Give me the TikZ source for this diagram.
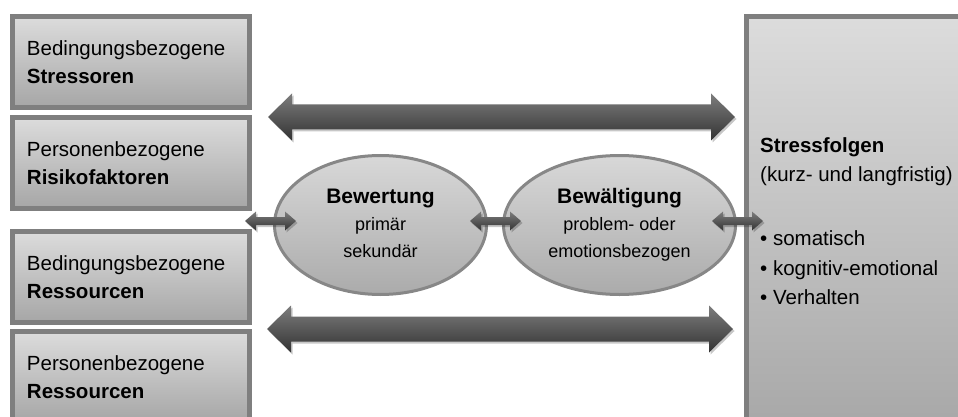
\documentclass[tikz,border=0pt]{standalone}
\usepackage{fontspec}
\setmainfont{Liberation Sans}
\usetikzlibrary{shapes.geometric,calc}
\definecolor{boxline}{HTML}{7F7F7F}
\definecolor{boxtop}{HTML}{DCDCDC}
\definecolor{boxbot}{HTML}{A6A6A6}
\definecolor{elline}{HTML}{878787}
\definecolor{eltop}{HTML}{D8D8D8}
\definecolor{elbot}{HTML}{ABABAB}
\definecolor{arrtop}{HTML}{7D7D7D}
\definecolor{arrmid}{HTML}{3F3F3F}
\definecolor{arrbot}{HTML}{333333}
\newcommand{\dblarrow}[6]{% style, start, end, half shaft, half head, head length
  \path[#1] let \p1=(#2), \p2=(#3) in
    (\x1,\y1) -- (\x1+#6,\y1+#5) -- (\x1+#6,\y1+#4) -- (\x2-#6,\y2+#4)
    -- (\x2-#6,\y2+#5) -- (\x2,\y2) -- (\x2-#6,\y2-#5) -- (\x2-#6,\y2-#4)
    -- (\x1+#6,\y1-#4) -- (\x1+#6,\y1-#5) -- cycle;}
\newcommand{\toprow}{\vphantom{Bäl}}
\newcommand{\lastrow}{\vphantom{g}}
\begin{document}
\begin{tikzpicture}[x=1pt,y=-1pt,
  leftbox/.style={draw=boxline, line width=5pt, top color=boxtop, bottom color=boxbot,
    minimum width=237pt, minimum height=91pt, text width=208pt, inner xsep=14.5pt,
    inner ysep=0pt, align=left, font=\fontsize{20.5}{28}\selectfont},
  rightbox/.style={draw=boxline, line width=5pt, top color=boxtop, bottom color=boxbot,
    minimum width=233.5pt, minimum height=423.5pt, inner sep=0pt},
  evalnode/.style={ellipse, draw=elline, line width=3pt, top color=eltop, bottom color=elbot,
    inner sep=0pt, align=center, font=\fontsize{18}{27}\selectfont},
  arrowfill/.style={top color=arrtop, middle color=arrmid, bottom color=arrbot},
  arrowshadow/.style={fill=black, opacity=0.22},
  ]
\clip (0,0) rectangle (958,417);
\fill[white] (0,0) rectangle (958,417);

% left boxes
\node[leftbox] (b1) at (131,62) {Bedingungsbezogene\\\textbf{Stressoren}};
\node[leftbox] (b2) at (131,163) {Personenbezogene\\\textbf{Risikofaktoren}};
\node[leftbox] (b3) at (131,277) {Bedingungsbezogene\\\textbf{Ressourcen}};
\node[leftbox] (b4) at (131,377) {Personenbezogene\\\textbf{Ressourcen}};

% right box
\node[rightbox] (rb) at (863.25,228.25) {};
\node[anchor=north west, align=left, inner sep=0pt, font=\fontsize{20.5}{29.5}\selectfont] (rt) at (760,137)
  {\textbf{Stressfolgen}\\(kurz- und langfristig)\\[34.5pt]• somatisch\\• kognitiv-emotional\\• Verhalten};

% ellipses
\node[evalnode, minimum width=212pt, minimum height=139pt] (e1) at (380.5,225)
  {{\fontsize{21}{27}\selectfont\bfseries\toprow Bewertung}\\primär\\sekundär\lastrow};
\node[evalnode, minimum width=232pt, minimum height=139pt] (e2) at (619.5,225)
  {{\fontsize{21}{27}\selectfont\bfseries\toprow Bewältigung}\\problem- oder\\emotionsbezogen\lastrow};

% arrow end points
\coordinate (ta) at (268,117);
\coordinate (tb) at (735,117);
\coordinate (ba) at (267,329);
\coordinate (bb) at (733,329);
\coordinate (s1a) at (245,221);
\coordinate (s1b) at (296,221);
\coordinate (s2a) at (470,221);
\coordinate (s2b) at (521,221);
\coordinate (s3a) at (712,221);
\coordinate (s3b) at (763,221);

% shadows
\begin{scope}[transform canvas={shift={(1.5pt,-2pt)}}]
\dblarrow{arrowshadow}{ta}{tb}{12.5pt}{23.5pt}{24pt}
\dblarrow{arrowshadow}{ba}{bb}{12.5pt}{23.5pt}{24pt}
\dblarrow{arrowshadow}{s1a}{s1b}{4pt}{9.5pt}{11pt}
\dblarrow{arrowshadow}{s2a}{s2b}{4pt}{9.5pt}{11pt}
\dblarrow{arrowshadow}{s3a}{s3b}{4pt}{9.5pt}{11pt}
\end{scope}
% arrows
\dblarrow{arrowfill}{ta}{tb}{12.5pt}{23.5pt}{24pt}
\dblarrow{arrowfill}{ba}{bb}{12.5pt}{23.5pt}{24pt}
\dblarrow{arrowfill}{s1a}{s1b}{4pt}{9.5pt}{11pt}
\dblarrow{arrowfill}{s2a}{s2b}{4pt}{9.5pt}{11pt}
\dblarrow{arrowfill}{s3a}{s3b}{4pt}{9.5pt}{11pt}
\end{tikzpicture}
\end{document}
